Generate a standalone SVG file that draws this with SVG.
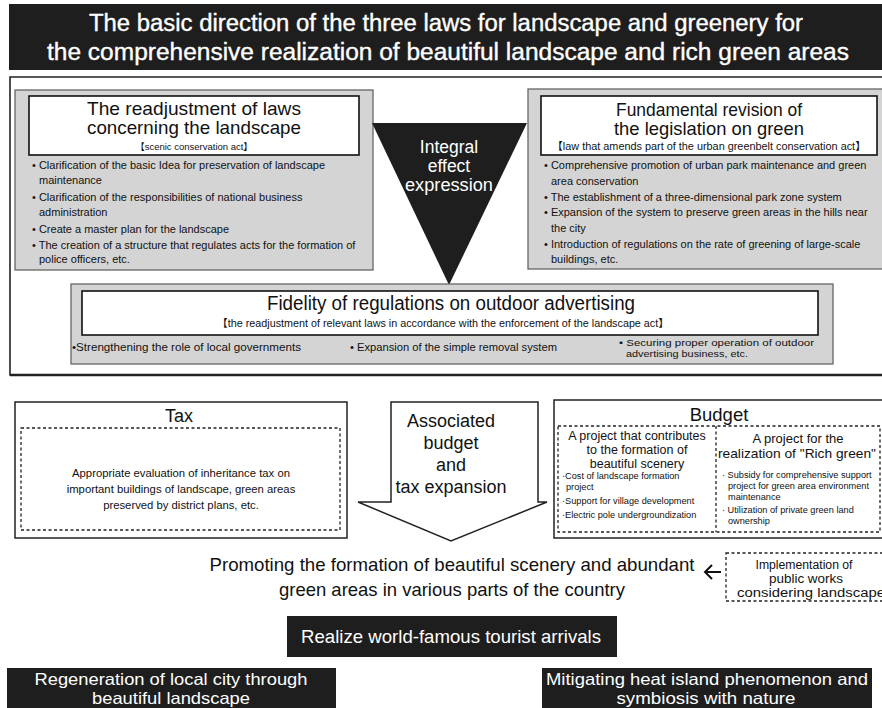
<svg xmlns="http://www.w3.org/2000/svg" width="882" height="708" viewBox="0 0 882 708">
  <defs>
    <style>
      text { font-family: "Liberation Sans", Arial, "Noto Sans CJK KR", sans-serif; fill: #111; }
      .w, .w text { fill: #fff; }
      .c { text-anchor: middle; }
      .dark { fill: #1e1e1e; }
      .panel { fill: #d4d4d4; stroke: #666; stroke-width: 1.3; }
      .head { fill: #fff; stroke: #111; stroke-width: 1.6; }
      .frame { fill: #fff; stroke: #222; stroke-width: 1.5; }
      .dash { fill: none; stroke: #222; stroke-width: 1.3; stroke-dasharray: 3 2.5; }
      .t18 { font-size: 18px; }
      .t19 { font-size: 19px; }
      .t11 { font-size: 11px; }
      .t9 { font-size: 9.2px; }
      .br { font-size: 9.5px; }
    </style>
  </defs>

  <!-- heading bar -->
  <g id="title">
    <rect class="dark" x="9" y="4" width="880" height="66"/>
    <g class="w c" font-size="23" stroke="#fff" stroke-width="0.35">
      <text x="446" y="31" textLength="714" lengthAdjust="spacingAndGlyphs">The basic direction of the three laws for landscape and greenery for</text>
      <text x="448" y="60" textLength="802" lengthAdjust="spacingAndGlyphs">the comprehensive realization of beautiful landscape and rich green areas</text>
    </g>
  </g>

  <!-- frame around the three laws -->
  <g id="laws-frame">
    <path d="M890 77 H10 V375 H890" fill="none" stroke="#222" stroke-width="1.6"/>
    <line x1="10" y1="375" x2="890" y2="375" stroke="#222" stroke-width="2.4"/>
  </g>

  <!-- landscape law -->
  <g id="landscape-law">
    <rect class="panel" x="15" y="90" width="358" height="180"/>
    <rect class="head" x="29" y="96" width="330" height="59"/>
    <text class="c t19" x="194" y="115" textLength="214" lengthAdjust="spacingAndGlyphs">The readjustment of laws</text>
    <text class="c t19" x="194" y="134" textLength="214" lengthAdjust="spacingAndGlyphs">concerning the landscape</text>
    <text class="c br" x="194" y="150">【scenic conservation act】</text>
    <g class="t11">
      <text x="32" y="169">• Clarification of the basic Idea for preservation of landscape</text>
      <text x="39" y="184">maintenance</text>
      <text x="32" y="201">• Clarification of the responsibilities of national business</text>
      <text x="39" y="216">administration</text>
      <text x="32" y="233">• Create a master plan for the landscape</text>
      <text x="32" y="249">• The creation of a structure that regulates acts for the formation of</text>
      <text x="39" y="263">police officers, etc.</text>
    </g>
  </g>

  <!-- green law -->
  <g id="green-law">
    <rect class="panel" x="528" y="89" width="362" height="180"/>
    <rect class="head" x="541" y="96" width="336" height="59"/>
    <text class="c t19" x="709" y="116" textLength="186" lengthAdjust="spacingAndGlyphs">Fundamental revision of</text>
    <text class="c t19" x="709" y="135" textLength="190" lengthAdjust="spacingAndGlyphs">the legislation on green</text>
    <text class="c" x="709" y="150" font-size="10.5" textLength="314" lengthAdjust="spacingAndGlyphs">【law that amends part of the urban greenbelt conservation act】</text>
    <g class="t11">
      <text x="544" y="169">• Comprehensive promotion of urban park maintenance and green</text>
      <text x="551" y="185">area conservation</text>
      <text x="544" y="201">• The establishment of a three-dimensional park zone system</text>
      <text x="544" y="216">• Expansion of the system to preserve green areas in the hills near</text>
      <text x="551" y="232">the city</text>
      <text x="544" y="248">• Introduction of regulations on the rate of greening of large-scale</text>
      <text x="551" y="263">buildings, etc.</text>
    </g>
  </g>

  <!-- combined effect -->
  <g id="integral-effect">
    <polygon class="dark" points="372,123 527,123 449,285"/>
    <g class="w c" font-size="17.5">
      <text x="449" y="153">Integral</text>
      <text x="449" y="172">effect</text>
      <text x="449" y="191" textLength="88" lengthAdjust="spacingAndGlyphs">expression</text>
    </g>
  </g>

  <!-- outdoor advertising -->
  <g id="advertising">
    <rect class="panel" x="71" y="284" width="762" height="80"/>
    <rect class="head" x="82" y="291" width="736" height="44"/>
    <text class="c" x="451" y="310" font-size="20" textLength="368" lengthAdjust="spacingAndGlyphs">Fidelity of regulations on outdoor advertising</text>
    <text class="c" x="443" y="327" font-size="10.5" textLength="452" lengthAdjust="spacingAndGlyphs">【the readjustment of relevant laws in accordance with the enforcement of the landscape act】</text>
    <g font-size="10.5">
      <text x="72" y="351" textLength="229" lengthAdjust="spacingAndGlyphs">•Strengthening the role of local governments</text>
      <text x="350" y="351" textLength="207" lengthAdjust="spacingAndGlyphs">• Expansion of the simple removal system</text>
    </g>
    <g font-size="9.5">
      <text x="619" y="346" textLength="195" lengthAdjust="spacingAndGlyphs">• Securing proper operation of outdoor</text>
      <text x="626" y="357" textLength="122" lengthAdjust="spacingAndGlyphs">advertising business, etc.</text>
    </g>
  </g>

  <!-- tax -->
  <g id="tax">
    <rect class="frame" x="15" y="402" width="332" height="136"/>
    <text class="c" x="179" y="422" font-size="18">Tax</text>
    <rect class="dash" x="21" y="428" width="319" height="102"/>
    <g class="c" font-size="11.3">
      <text x="181" y="477">Appropriate evaluation of inheritance tax on</text>
      <text x="181" y="493">important buildings of landscape, green areas</text>
      <text x="181" y="509">preserved by district plans, etc.</text>
    </g>
  </g>

  <!-- budget and tax expansion -->
  <g id="expansion">
    <polygon points="391,402 538,402 538,502 547,502 451,541 358,502 391,502" fill="#fff" stroke="#222" stroke-width="1.5"/>
    <g class="c t18">
      <text x="451" y="427">Associated</text>
      <text x="451" y="449">budget</text>
      <text x="451" y="471">and</text>
      <text x="451" y="493">tax expansion</text>
    </g>
  </g>

  <!-- budget -->
  <g id="budget">
    <rect class="frame" x="554" y="400" width="340" height="138"/>
    <text class="c" x="719" y="421" font-size="18.5">Budget</text>
    <rect class="dash" x="558" y="426" width="322" height="106"/>
    <line class="dash" x1="716" y1="426" x2="716" y2="532"/>
    <g class="c" font-size="12.5">
      <text x="637" y="440">A project that contributes</text>
      <text x="637" y="454">to the formation of</text>
      <text x="637" y="468">beautiful scenery</text>
    </g>
    <g class="c" font-size="13">
      <text x="798" y="443">A project for the</text>
      <text x="797" y="458" textLength="158" lengthAdjust="spacingAndGlyphs">realization of "Rich green"</text>
    </g>
    <g class="t9">
      <text x="562" y="479">·Cost of landscape formation</text>
      <text x="566" y="490">project</text>
      <text x="562" y="504">·Support for village development</text>
      <text x="562" y="518">·Electric pole undergroundization</text>
      <text x="722" y="478">· Subsidy for comprehensive support</text>
      <text x="728" y="489">project for green area environment</text>
      <text x="728" y="500">maintenance</text>
      <text x="722" y="513">· Utilization of private green land</text>
      <text x="728" y="524">ownership</text>
    </g>
  </g>

  <!-- overall outcome -->
  <g id="promotion">
    <text class="c" x="452" y="571" font-size="18.5" textLength="485" lengthAdjust="spacingAndGlyphs">Promoting the formation of beautiful scenery and abundant</text>
    <text class="c" x="452" y="596" font-size="18.5" textLength="346" lengthAdjust="spacingAndGlyphs">green areas in various parts of the country</text>
  </g>

  <g id="public-works">
    <rect class="dash" x="726" y="553" width="170" height="48"/>
    <text class="c" x="804" y="569" font-size="12.5" textLength="97" lengthAdjust="spacingAndGlyphs">Implementation of</text>
    <text class="c" x="806" y="583" font-size="12.5" textLength="74" lengthAdjust="spacingAndGlyphs">public works</text>
    <text class="c" x="811" y="597" font-size="12.5" textLength="148" lengthAdjust="spacingAndGlyphs">considering landscape</text>
  </g>

  <g id="tourism">
    <rect class="dark" x="287" y="616" width="330" height="41"/>
    <text class="w c" x="451" y="643" font-size="18.5" textLength="300" lengthAdjust="spacingAndGlyphs">Realize world-famous tourist arrivals</text>
  </g>

  <g id="regeneration">
    <rect class="dark" x="7" y="668" width="329" height="44"/>
    <text class="w c" x="171" y="685" font-size="16.5" textLength="273" lengthAdjust="spacingAndGlyphs">Regeneration of local city through</text>
    <text class="w c" x="171" y="704" font-size="16.5" textLength="158" lengthAdjust="spacingAndGlyphs">beautiful landscape</text>
  </g>

  <g id="heat-island">
    <rect class="dark" x="542" y="668" width="330" height="44"/>
    <text class="w c" x="707" y="685" font-size="16.5" textLength="322" lengthAdjust="spacingAndGlyphs">Mitigating heat island phenomenon and</text>
    <text class="w c" x="706" y="704" font-size="16.5" textLength="179" lengthAdjust="spacingAndGlyphs">symbiosis with nature</text>
  </g>

  <!-- connectors -->
  <g id="connectors" fill="none" stroke="#111" stroke-width="2">
    <line x1="721" y1="572" x2="705" y2="572"/>
    <polyline points="712,565 705,572 712,579"/>
  </g>
</svg>
